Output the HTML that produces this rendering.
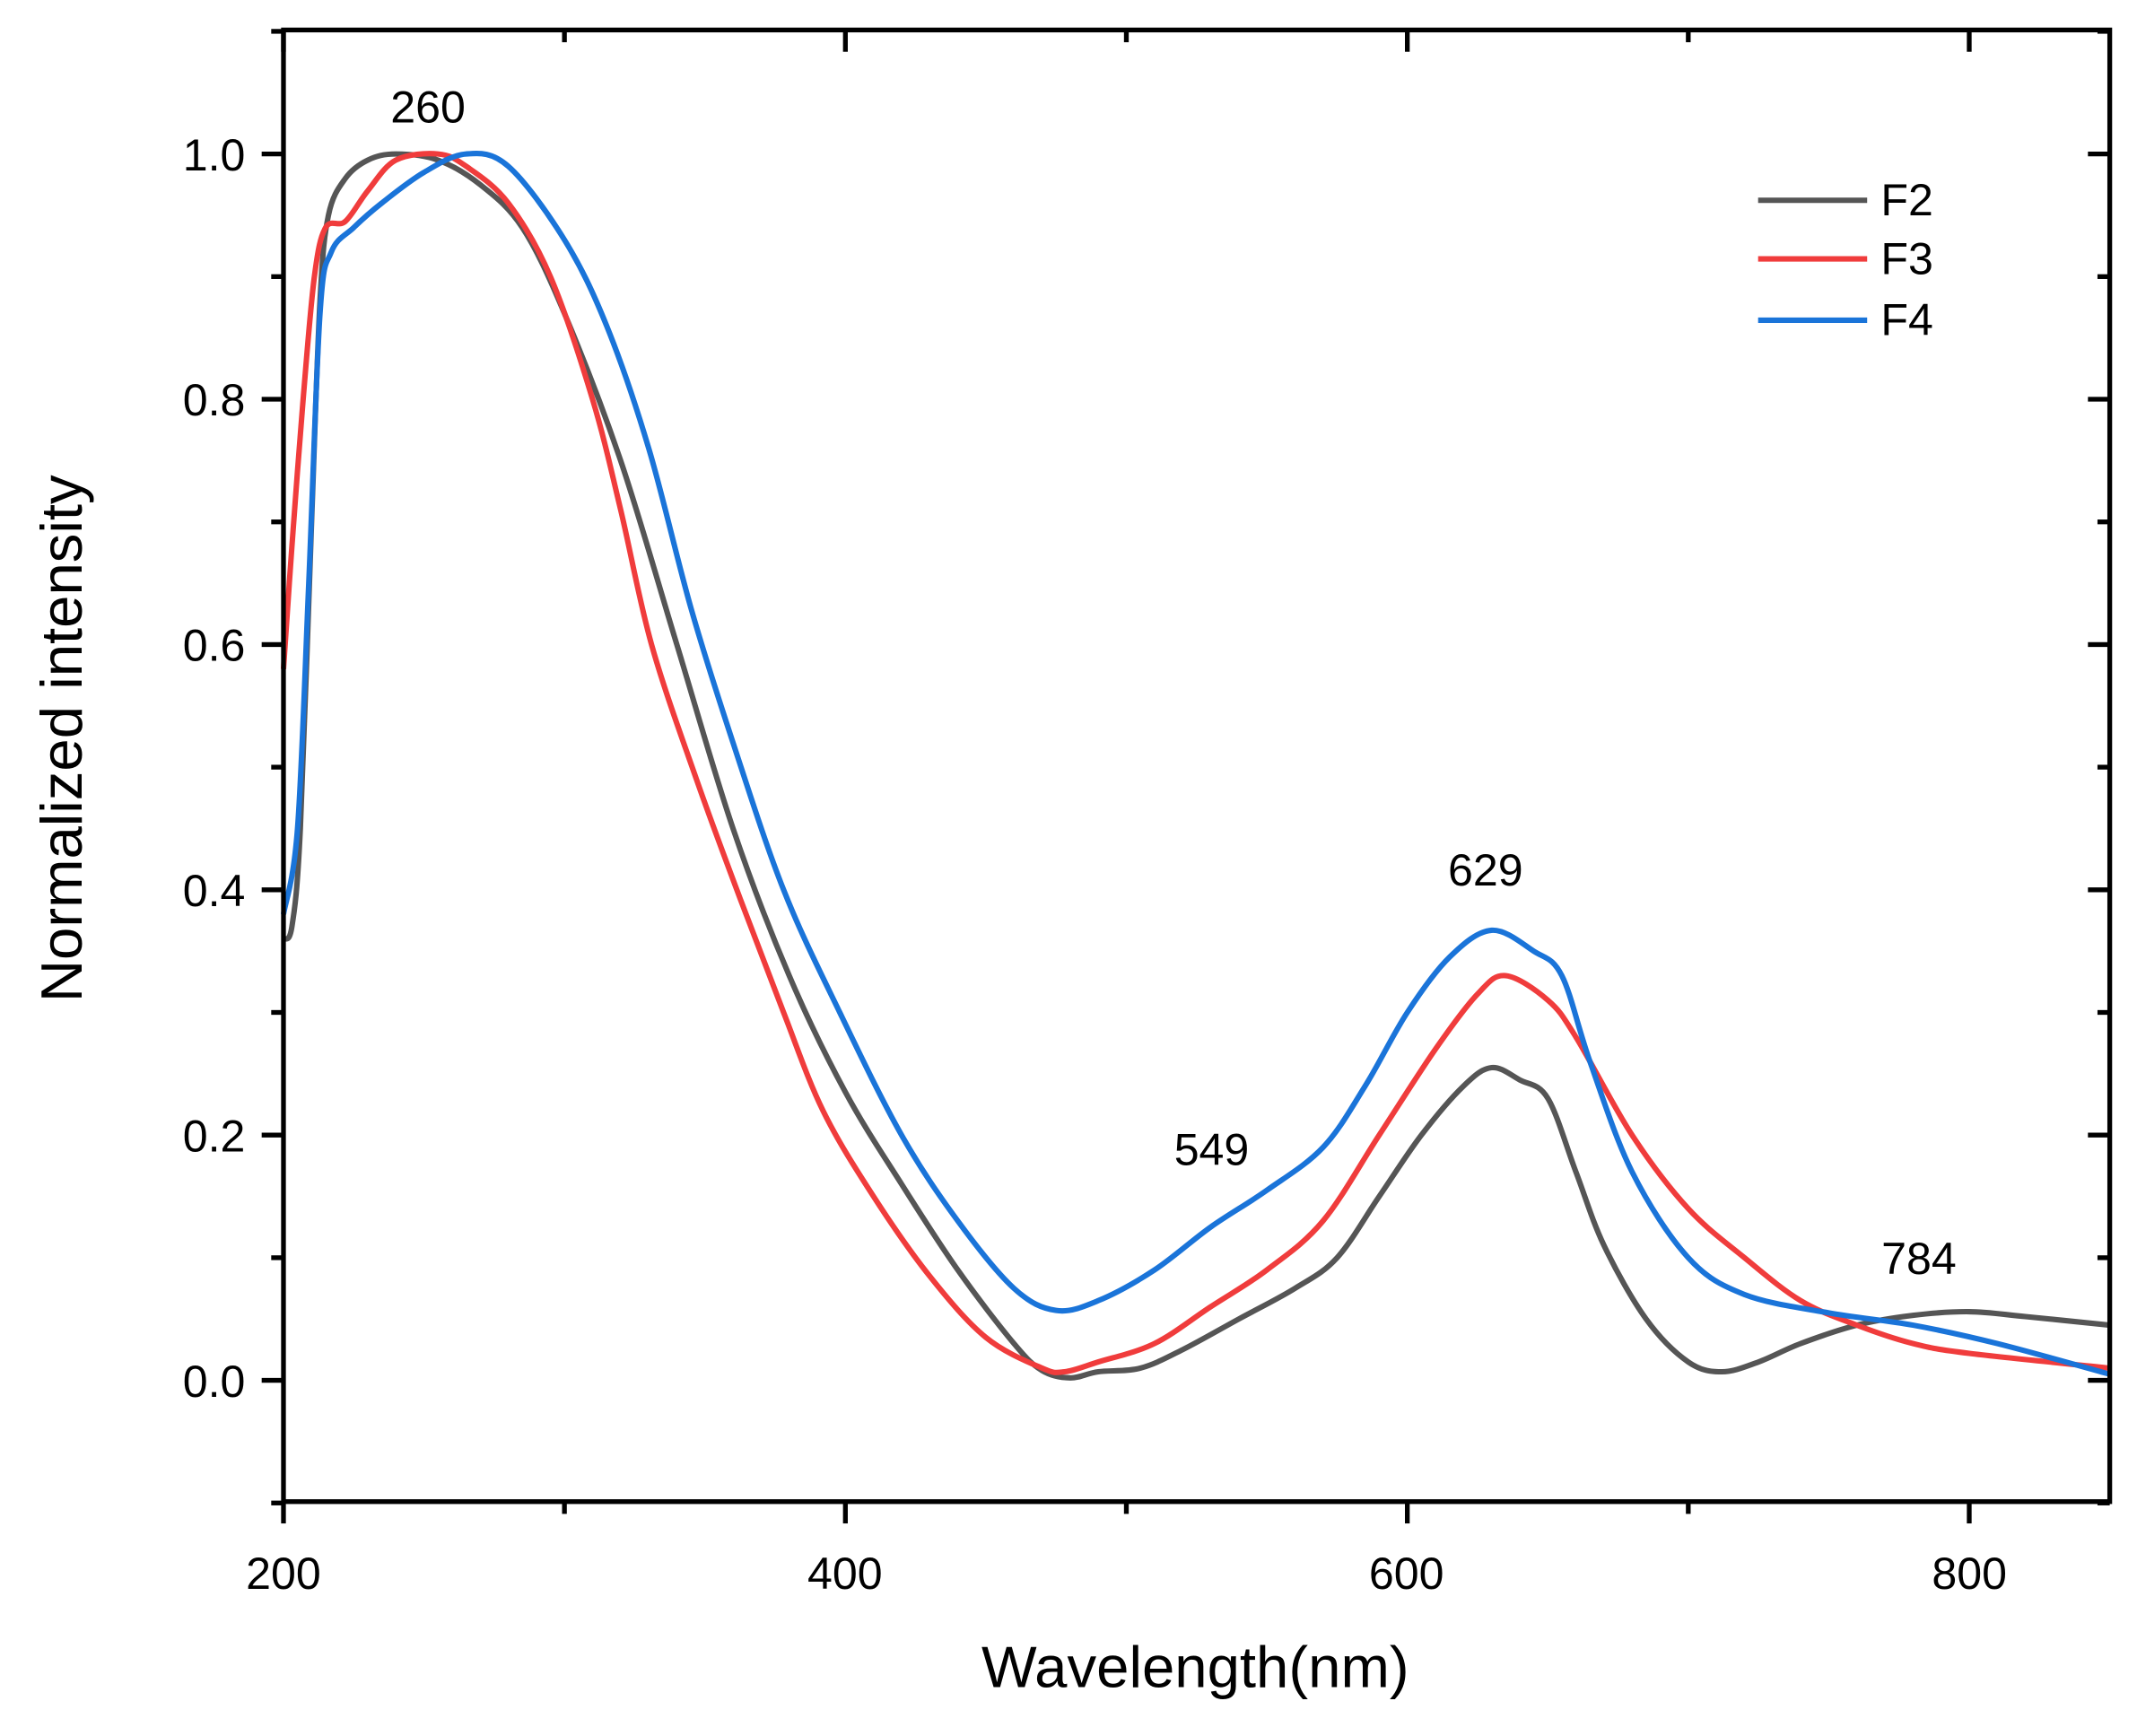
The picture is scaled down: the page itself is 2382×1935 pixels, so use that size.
<!DOCTYPE html>
<html><head><meta charset="utf-8"><style>html,body{margin:0;padding:0;background:#fff}svg{display:block}</style></head>
<body>
<svg id="s" width="2382" height="1935" viewBox="0 0 1568 1274" preserveAspectRatio="none" xmlns="http://www.w3.org/2000/svg" font-family="Liberation Sans, Arial, sans-serif">
<rect width="1568" height="1274" fill="#fff"/>
<g id="curves" fill="none" stroke-width="4" stroke-linejoin="round"></g>
<rect x="208" y="22" width="1340" height="1080" fill="none" stroke="#000" stroke-width="3.5"/>
<g id="ticks" stroke="#000" stroke-width="3.5"></g>
<g font-size="33" fill="#000">
<text x="180" y="125" text-anchor="end">1.0</text>
<text x="180" y="305" text-anchor="end">0.8</text>
<text x="180" y="485" text-anchor="end">0.6</text>
<text x="180" y="665" text-anchor="end">0.4</text>
<text x="180" y="845" text-anchor="end">0.2</text>
<text x="180" y="1025" text-anchor="end">0.0</text>
<text x="208" y="1166" text-anchor="middle">200</text>
<text x="620" y="1166" text-anchor="middle">400</text>
<text x="1032" y="1166" text-anchor="middle">600</text>
<text x="1445" y="1166" text-anchor="middle">800</text>
<text x="314" y="90" text-anchor="middle">260</text>
<text x="1090" y="650" text-anchor="middle">629</text>
<text x="889" y="855" text-anchor="middle">549</text>
<text x="1408" y="935" text-anchor="middle">784</text>
<text x="1380" y="158">F2</text>
<text x="1380" y="201">F3</text>
<text x="1380" y="246">F4</text>
</g>
<line x1="1290" y1="147" x2="1370" y2="147" stroke="#555" stroke-width="4"/>
<line x1="1290" y1="190" x2="1370" y2="190" stroke="#f03c3c" stroke-width="4"/>
<line x1="1290" y1="235" x2="1370" y2="235" stroke="#1a74d9" stroke-width="4"/>
<text x="877" y="1238" font-size="43" text-anchor="middle">Wavelength(nm)</text>
<text transform="translate(60,542) rotate(-90)" font-size="43" text-anchor="middle">Normalized intensity</text>
</svg>
<script>
const X=l=>208+(l-200)*2.0615, Y=v=>1013-v*900;
const data={
"#555":[[200,0.36],[203,0.37],[206,0.45],[210,0.7],[213,0.88],[216,0.95],[222,0.98],[230,0.995],[240,1.0],[255,0.995],[270,0.975],[285,0.94],[300,0.87],[320,0.75],[340,0.6],[360,0.45],[380,0.33],[400,0.235],[420,0.16],[440,0.09],[460,0.03],[470,0.008],[480,0.002],[490,0.007],[505,0.01],[520,0.025],[540,0.05],[560,0.075],[575,0.1],[590,0.15],[605,0.2],[620,0.24],[630,0.255],[640,0.245],[650,0.23],[660,0.17],[670,0.11],[685,0.05],[700,0.015],[712,0.007],[725,0.015],[740,0.03],[760,0.045],[780,0.053],[800,0.056],[820,0.052],[850,0.045]],
"#f03c3c":[[200,0.58],[203,0.68],[207,0.8],[211,0.9],[215,0.94],[222,0.945],[230,0.97],[240,0.995],[255,1.0],[265,0.99],[280,0.96],[295,0.9],[310,0.8],[320,0.71],[331,0.6],[347,0.49],[363,0.39],[378,0.3],[392,0.22],[410,0.15],[430,0.085],[450,0.035],[470,0.01],[478,0.007],[490,0.015],[510,0.03],[530,0.06],[550,0.09],[570,0.13],[590,0.2],[610,0.27],[625,0.315],[635,0.33],[650,0.31],[660,0.28],[680,0.2],[700,0.14],[720,0.1],[740,0.065],[760,0.045],[780,0.03],[800,0.022],[850,0.01]],
"#1a74d9":[[200,0.38],[205,0.45],[209,0.65],[213,0.87],[217,0.92],[225,0.94],[235,0.96],[250,0.985],[265,1.0],[280,0.99],[300,0.93],[315,0.86],[330,0.76],[345,0.63],[360,0.52],[378,0.4],[398,0.3],[420,0.2],[440,0.13],[460,0.075],[475,0.057],[490,0.065],[510,0.09],[530,0.125],[550,0.155],[570,0.19],[585,0.24],[600,0.3],[615,0.345],[630,0.367],[645,0.35],[655,0.33],[665,0.26],[680,0.17],[700,0.1],[720,0.07],[750,0.055],[780,0.045],[810,0.03],[850,0.005]]};
const ns="http://www.w3.org/2000/svg";
const g=document.getElementById("curves");
for(const c in data){const p=data[c].map(a=>[X(a[0]),Y(a[1])]);
let d="M"+p[0][0]+","+p[0][1];
for(let i=0;i<p.length-1;i++){const p0=p[i-1]||p[i],p1=p[i],p2=p[i+1],p3=p[i+2]||p2;
d+=` C${p1[0]+(p2[0]-p0[0])/6},${p1[1]+(p2[1]-p0[1])/6} ${p2[0]-(p3[0]-p1[0])/6},${p2[1]-(p3[1]-p1[1])/6} ${p2[0]},${p2[1]}`;}
const e=document.createElementNS(ns,"path");e.setAttribute("d",d);e.setAttribute("stroke",c);g.appendChild(e);}
const t=document.getElementById("ticks");
function L(a,b,c,d){const e=document.createElementNS(ns,"line");e.setAttribute("x1",a);e.setAttribute("y1",b);e.setAttribute("x2",c);e.setAttribute("y2",d);t.appendChild(e);}
for(let l=200;l<=800;l+=100){const x=X(l),m=l%200==0?16:9;L(x,1102,x,1102+m);L(x,22,x,22+m);}
for(let v=-0.1;v<=1.101;v+=0.1){const y=Y(v),maj=Math.round(v*10)%2==0?16:9;L(208,y,208-maj,y);L(1548,y,1548-maj,y);}
</script>
</body></html>
